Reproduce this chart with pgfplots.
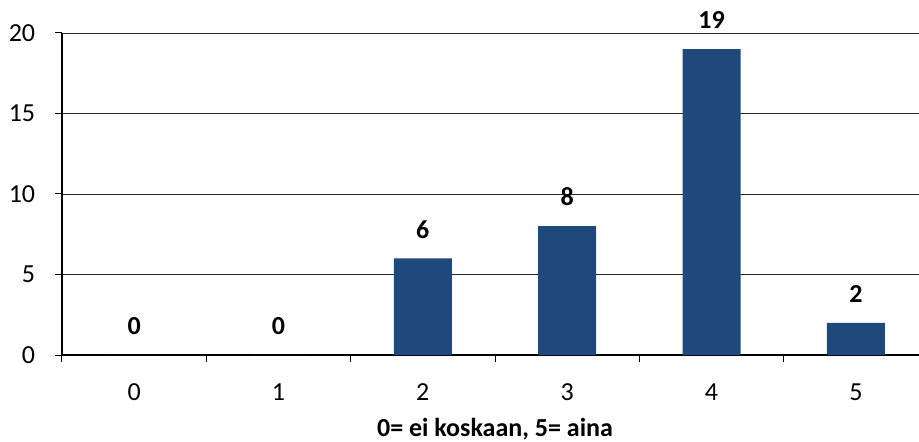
\documentclass[border=0pt]{standalone}
\usepackage{fontspec}
\setmainfont{Carlito}
\usepackage{pgfplots}
\pgfplotsset{compat=1.18}
\definecolor{barblue}{RGB}{31,73,125}
\begin{document}
\fontsize{26bp}{30bp}\selectfont
\begin{tikzpicture}
% page box: axis starts at (0,0); the right end of the axis is cut off as in the reference
\useasboundingbox (-62bp,-87bp) rectangle (857bp,355bp);
\begin{axis}[
    scale only axis,
    width=866bp,
    height=322bp,
    xmin=-0.5, xmax=5.5,
    ymin=0, ymax=20,
    axis x line=bottom,
    axis y line=left,
    axis line style={-, line width=1.6bp, black},
    xtick={-0.5,0.5,...,5.5},
    x tick label as interval,
    xticklabels={0,1,2,3,4,5},
    ytick={0,5,10,15,20},
    tick align=outside,
    major tick length=7bp,
    tick style={black, line width=1bp},
    ymajorgrids=true,
    grid style={black!85, line width=0.9bp},
    xticklabel style={yshift=-13bp},
    yticklabel style={xshift=-11bp},
    /pgf/number format/assume math mode=true,
    xlabel={\bfseries 0= ei koskaan, 5= aina},
    xlabel style={yshift=0bp},
    ybar,
    bar width=58bp,
    nodes near coords,
    nodes near coords style={font=\bfseries, anchor=south, inner sep=0pt, yshift=20bp},
]
\addplot[fill=barblue, draw=none] coordinates {
    (0,0) (1,0) (2,6) (3,8) (4,19) (5,2)
};
\end{axis}
\end{tikzpicture}
\end{document}
